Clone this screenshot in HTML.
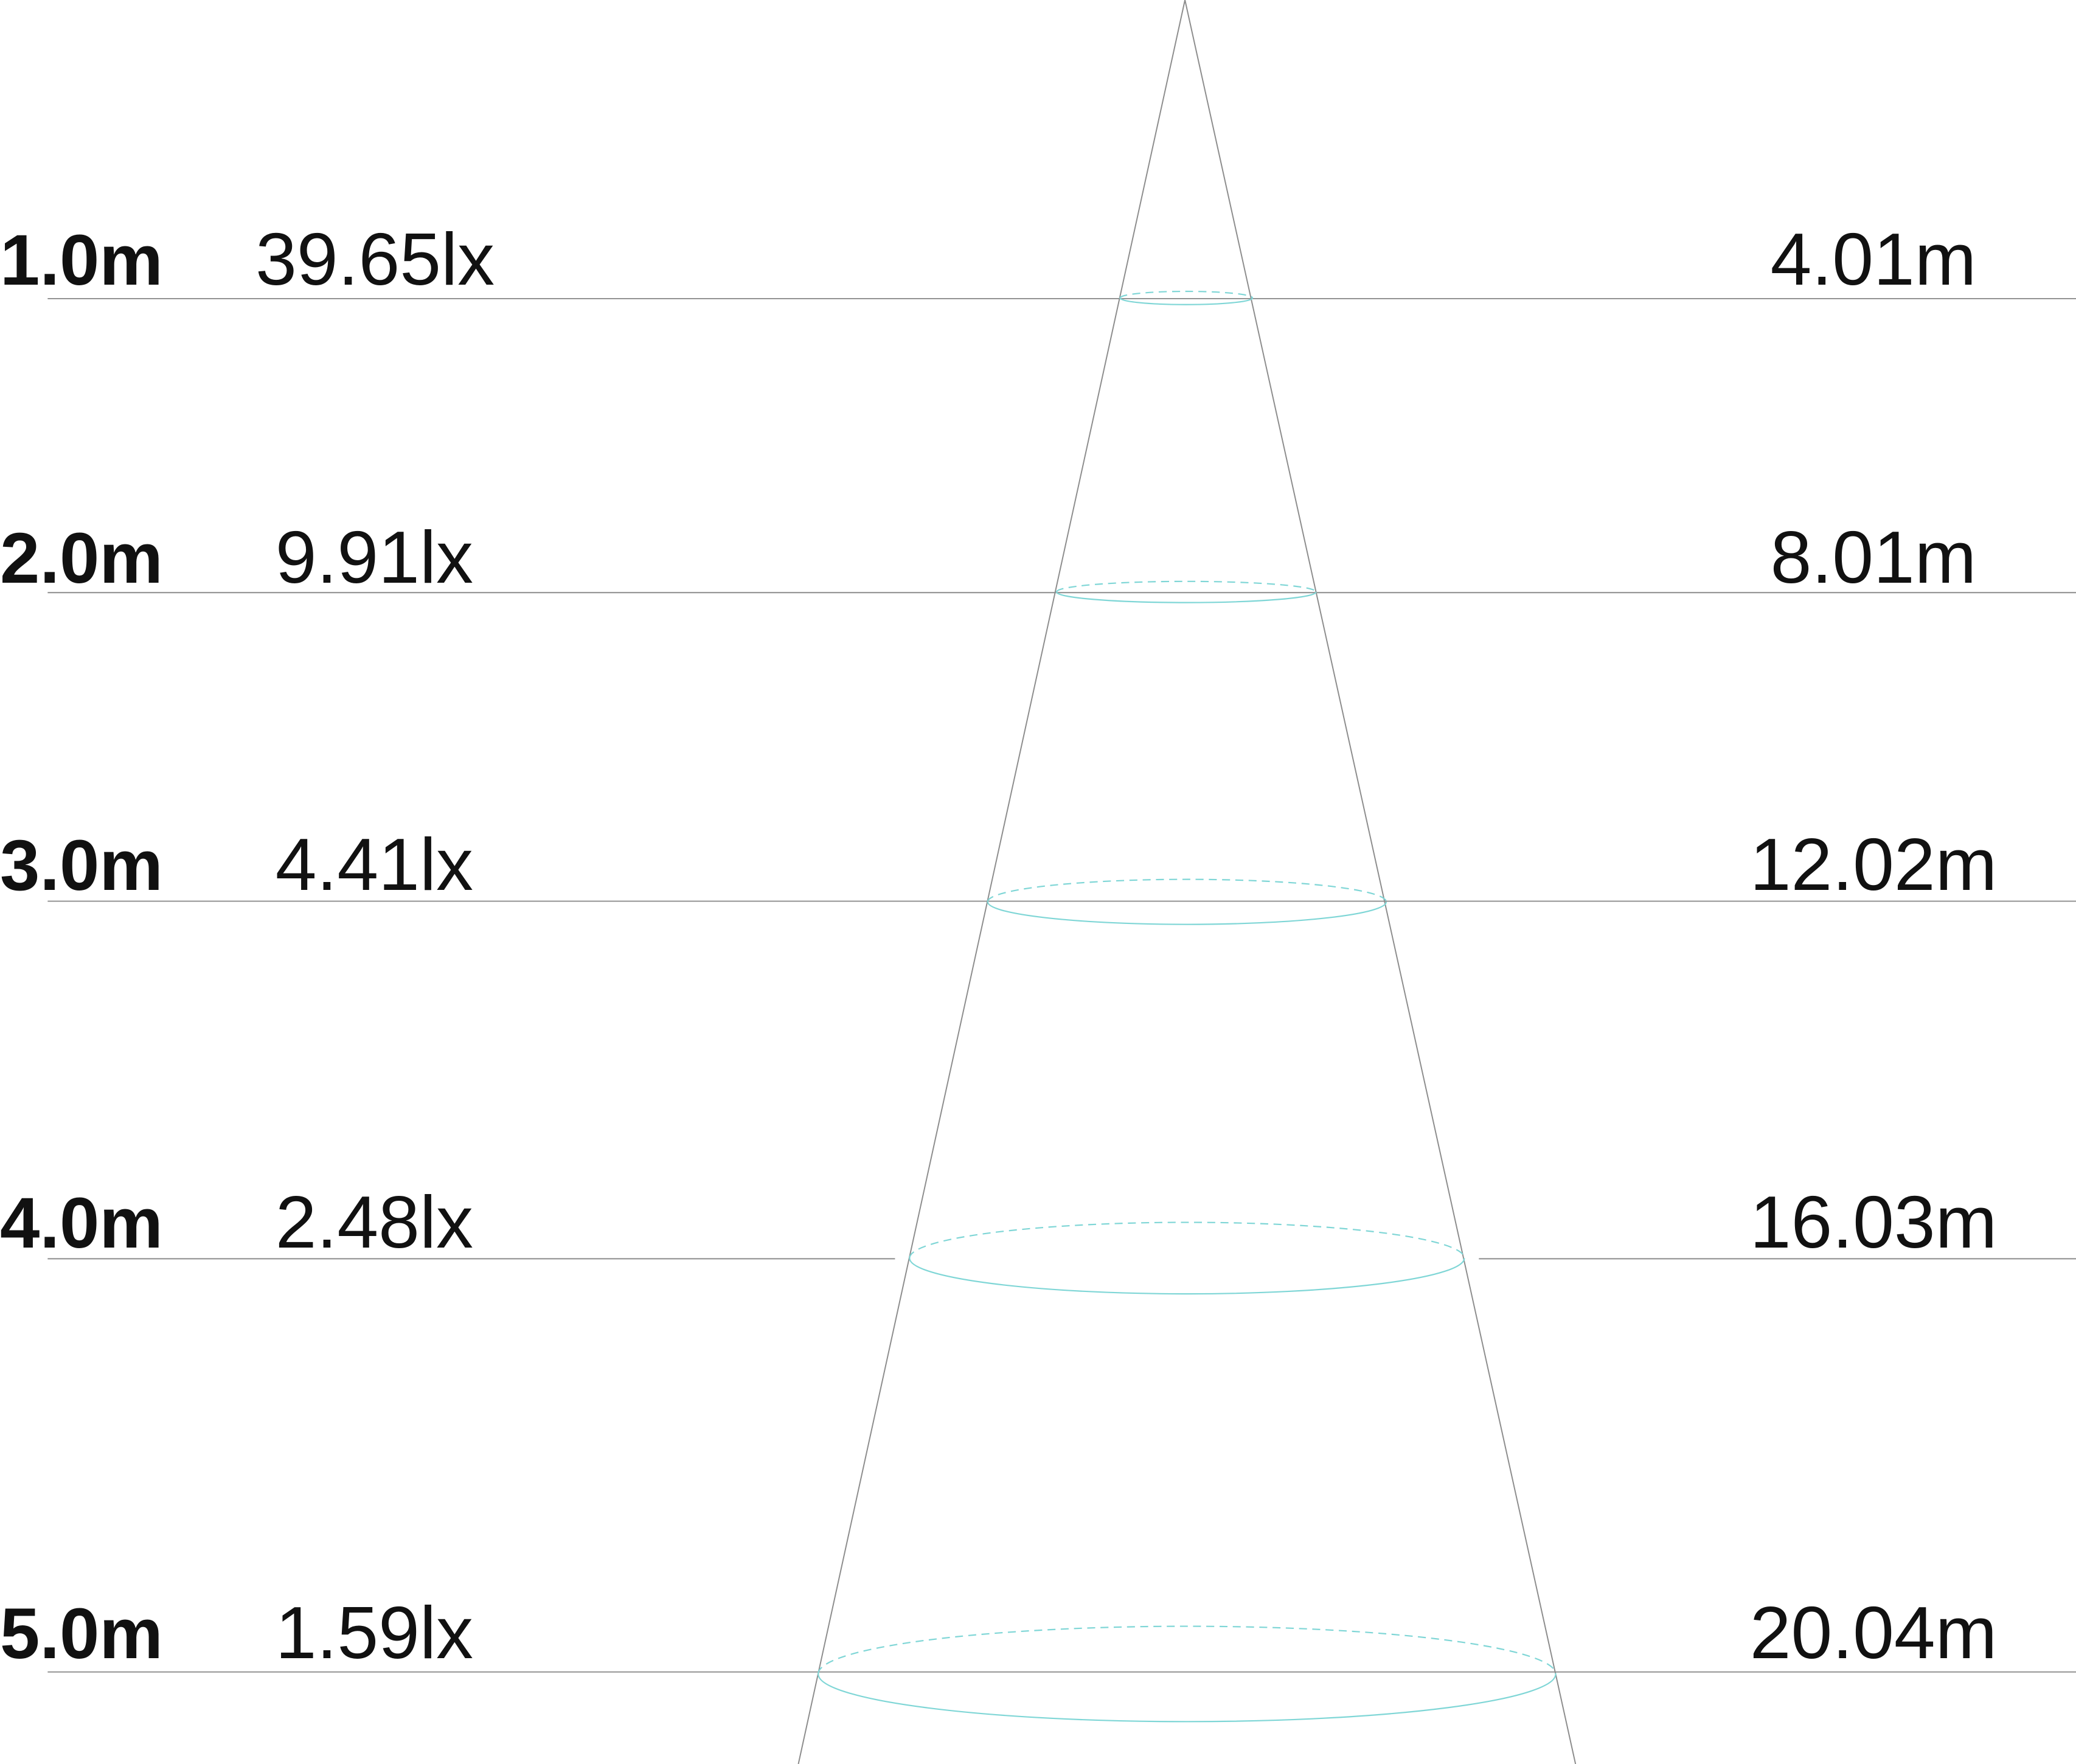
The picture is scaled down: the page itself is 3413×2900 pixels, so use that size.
<!DOCTYPE html>
<html><head><meta charset="utf-8"><style>html,body{margin:0;padding:0;background:#fff}svg{display:block}</style></head>
<body>
<svg width="3413" height="2900" viewBox="0 0 1568 1332" preserveAspectRatio="none" xmlns="http://www.w3.org/2000/svg">
<g stroke="#8c8c8c" stroke-width="0.9" fill="none">
<line x1="895" y1="0" x2="603" y2="1332"/>
<line x1="895" y1="0" x2="1190" y2="1332"/>
<line x1="36" y1="225.5" x2="1568" y2="225.5"/>
<line x1="36" y1="447.5" x2="1568" y2="447.5"/>
<line x1="36" y1="680.5" x2="1568" y2="680.5"/>
<line x1="36" y1="950.5" x2="676" y2="950.5"/>
<line x1="1117" y1="950.5" x2="1568" y2="950.5"/>
<line x1="36" y1="1262.5" x2="1568" y2="1262.5"/>
</g>
<g stroke="#7fd6d6" stroke-width="1" fill="none">
<path d="M846,225 A50,5 0 0 0 946,225"/><path d="M846,225 A50,5 0 0 1 946,225" stroke-dasharray="6,4"/>
<path d="M798,447 A98,8 0 0 0 994,447"/><path d="M798,447 A98,8 0 0 1 994,447" stroke-dasharray="6,4"/>
<path d="M746,681 A150.5,17 0 0 0 1047,681"/><path d="M746,681 A150.5,17 0 0 1 1047,681" stroke-dasharray="6,4"/>
<path d="M687,950 A209.5,27 0 0 0 1106,950"/><path d="M687,950 A209.5,27 0 0 1 1106,950" stroke-dasharray="6,4"/>
<path d="M618,1264 A278.5,36 0 0 0 1175,1264"/><path d="M618,1264 A278.5,36 0 0 1 1175,1264" stroke-dasharray="6,4"/>
</g>
<g font-family="Liberation Sans, sans-serif" font-size="56" fill="#111">
<g font-weight="bold" font-size="54">
<text x="0" y="215">1.0m</text>
<text x="0" y="440">2.0m</text>
<text x="0" y="672">3.0m</text>
<text x="0" y="942">4.0m</text>
<text x="0" y="1252">5.0m</text>
</g>
<text x="193" y="215">39.65lx</text>
<text x="208" y="440">9.91lx</text>
<text x="208" y="672">4.41lx</text>
<text x="208" y="942">2.48lx</text>
<text x="208" y="1252">1.59lx</text>
<g text-anchor="middle">
<text x="1415" y="215">4.01m</text>
<text x="1415" y="440">8.01m</text>
<text x="1415" y="672">12.02m</text>
<text x="1415" y="942">16.03m</text>
<text x="1415" y="1252">20.04m</text>
</g>
</g>
</svg>
</body></html>
